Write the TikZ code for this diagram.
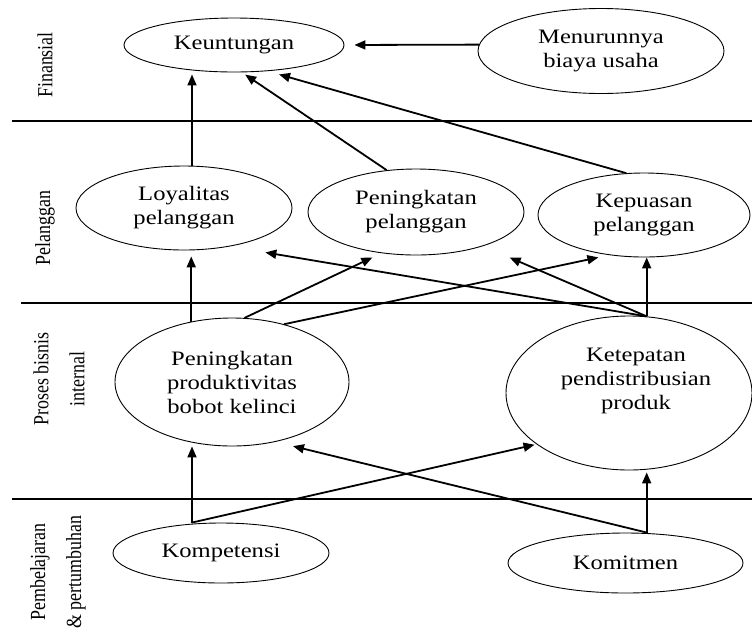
\documentclass[tikz,border=0pt]{standalone}
\usepackage{fontspec}
\usetikzlibrary{shapes.geometric}
\usetikzlibrary{arrows.meta}
\newfontfamily\bubblefont{Liberation Serif}[FakeStretch=1.2]
\newfontfamily\lanefont{Liberation Serif}[FakeStretch=0.833]
\tikzset{
  bubbletext/.style={align=center, font=\bubblefont\fontsize{20.5}{24}\selectfont},
  bubble/.style={draw, ellipse, line width=0.9pt, inner sep=0pt, bubbletext},
  lane/.style={rotate=90, align=center, inner sep=0pt, font=\lanefont\fontsize{21.5}{32}\selectfont},
  divider/.style={line width=2.4pt},
  link/.style={line width=1.8pt, -{Triangle[length=11pt,width=9pt]}}
}

\begin{document}
\begin{tikzpicture}[x=1pt, y=-1pt]
  \useasboundingbox (0,0) rectangle (752,633);
  \draw[divider] (12,121) -- (752,121);
  \draw[divider] (21,303) -- (752,303);
  \draw[divider] (12,499) -- (752,499);

  \node[lane] (finansial) at (45,65) {Finansial};
  \node[lane] (pelanggan) at (45,228) {Pelanggan};
  \node[lane] (proses) at (59,379) {Proses bisnis\\[4pt]internal};
  \node[lane] (pembelajaran) at (58,572) {Pembelajaran\\[4pt]\& pertumbuhan};

  \node[bubble, minimum width=220pt, minimum height=54pt] (keuntungan) at (234,45) {Keuntungan};
  \node[bubble, minimum width=246pt, minimum height=85pt] (biaya) at (601,51) {Menurunnya\\biaya usaha};
  \node[bubble, minimum width=216pt, minimum height=84pt] (loyalitas) at (184,208) {Loyalitas\\pelanggan};
  \node[bubble, minimum width=216pt, minimum height=86pt] (peningkatan) at (416,212) {Peningkatan\\pelanggan};
  \node[bubble, minimum width=212pt, minimum height=84pt] (kepuasan) at (644,215) {Kepuasan\\pelanggan};
  \node[bubble, minimum width=234pt, minimum height=128pt] (produktivitas) at (232,382) {Peningkatan\\produktivitas\\bobot kelinci};
  \node[bubble, minimum width=246pt, minimum height=154pt,
    label={[bubbletext, xshift=7pt, yshift=12pt]center:{Ketepatan\\pendistribusian\\produk}}] (ketepatan) at (629,393) {};
  \node[bubble, minimum width=216pt, minimum height=60pt] (kompetensi) at (221,553) {Kompetensi};
  \node[bubble, minimum width=235pt, minimum height=60pt] (komitmen) at (625.5,563) {Komitmen};

  \draw[link, shorten >=10pt] (biaya.177) -- (keuntungan.east);
  \draw[link, shorten >=2pt] ([xshift=8pt]loyalitas.north) -- ([xshift=8pt]loyalitas.north |- keuntungan.south);
  \draw[link, shorten >=4pt] (peningkatan.125) -- (keuntungan.286);
  \draw[link, shorten >=12pt] (kepuasan.113) -- (keuntungan.322);
  \draw[link, shorten >=6pt] (produktivitas.124) -- (produktivitas.124 |- loyalitas.south);
  \draw[link, shorten >=10pt] (produktivitas.79) -- (peningkatan.230);
  \draw[link, shorten >=11pt] (produktivitas.48) -- (kepuasan.229);
  \draw[link, shorten >=36pt] (ketepatan.77) -- (loyalitas.320);
  \draw[link, shorten >=29pt] (ketepatan.77) -- (peningkatan.333);
  \draw[link] (ketepatan.77) -- (ketepatan.77 |- kepuasan.south);
  \draw[link] ([xshift=-29pt]kompetensi.north) -- ([xshift=-29pt]kompetensi.north |- produktivitas.south);
  \draw[link, shorten >=2pt] ([xshift=-29pt]kompetensi.north) -- (ketepatan.209);
  \draw[link, shorten >=2pt] (ketepatan.77 |- komitmen.north) -- (ketepatan.south -| ketepatan.77);
  \draw[link, shorten >=18pt] (ketepatan.77 |- komitmen.north) -- (produktivitas.306);
\end{tikzpicture}
\end{document}
